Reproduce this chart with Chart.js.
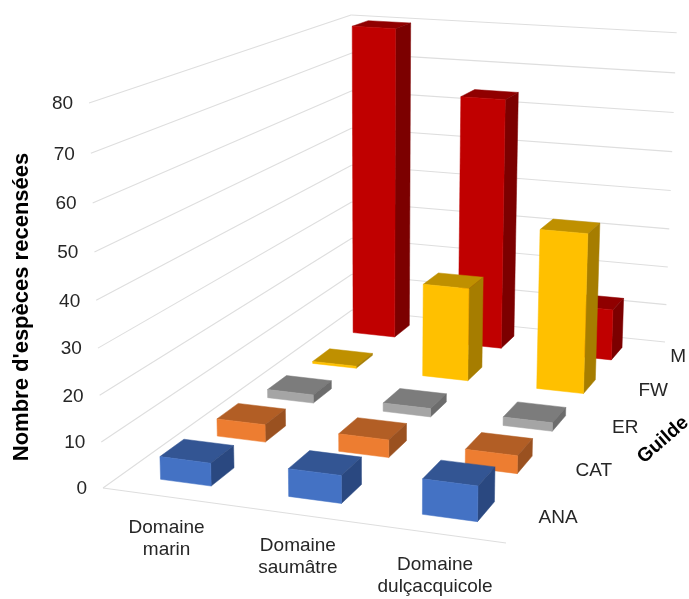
<!DOCTYPE html>
<html lang="fr">
<head>
<meta charset="utf-8">
<title>Nombre d'espèces recensées par domaine et par guilde</title>
<style>
  html, body { margin: 0; padding: 0; background: #fff; }
  canvas { display: block; }
</style>
<script src="https://cdn.jsdelivr.net/npm/chart.js@4"></script>
</head>
<body>
<canvas id="chart" width="689" height="599"></canvas>
<script>
// Domains (width of the box), guilds (depth of the box)
const domains = [["Domaine", "marin"], ["Domaine", "saumâtre"], ["Domaine", "dulçacquicole"]];
const guilds = ["ANA", "CAT", "ER", "FW", "M"];

// Species counts per guild, one value per domain
const anaValues = [5, 6, 7.5];
const catValues = [4, 4, 4];
const erValues = [2, 2, 2];
const fwValues = [0.5, 23, 39];
const mValues = [80, 64, 13];

const faceColors = ["#4472C4", "#ED7D31", "#A5A5A5", "#FFC000", "#C00000"];
const topColors = ["#335593", "#B25E25", "#7C7C7C", "#BF9000", "#900000"];
const sideColors = ["#2A4880", "#9A5120", "#6C6C6C", "#A67D00", "#7C0000"];

const valueTitle = "Nombre d'espèces recensées";
const depthTitle = "Guilde";

// Corners of the plot box on the page: floor, then points up the walls (u, v, w, x, y).
// The front edge is listed several times so the fit favours the tick positions.
const floorFrontLeft = [103, 488], floorFrontRight = [506, 543];
const floorBackLeft = [352, 310], floorBackRight = [665, 342];
const wallPoints = [
  [0, 0, 1, 89, 105], [0, 0, 1, 89, 105], [0, 0, 1, 89, 105], [0, 0, 1, 89, 105],
  [0, 0, 0.5, 98, 302], [0, 0, 0.5, 98, 302],
  [0, 1, 1, 348, 13], [0, 1, 0.5, 350, 164],
  [1, 1, 1, 677, 29], [1, 1, 0.5, 671, 189]
];

// Share of a category slot filled by a box along width and depth, and its drift with depth
const BAR_WIDTH = 0.40, BAR_DEPTH = 0.40, DRIFT_FRONT = 0.0035, DRIFT_PER_DEPTH = -0.0125;

// Builds the perspective projection (u, v, w in 0..1) from the box corners
function buildProjection() {
  const [x0, y0] = floorFrontLeft, [x1, y1] = floorFrontRight;
  const [x2, y2] = floorBackRight, [x3, y3] = floorBackLeft;
  const sx = x0 - x1 + x2 - x3, sy = y0 - y1 + y2 - y3;
  const dx1 = x1 - x2, dx2 = x3 - x2, dy1 = y1 - y2, dy2 = y3 - y2;
  const det = dx1 * dy2 - dx2 * dy1;
  const g = (sx * dy2 - dx2 * sy) / det, h = (dx1 * sy - sx * dy1) / det;
  const a = x1 - x0 + g * x1, b = x3 - x0 + h * x3, c = x0;
  const d = y1 - y0 + g * y1, e = y3 - y0 + h * y3, f = y0;

  // Least-squares fit of the vertical axis terms against the wall points
  const rows = wallPoints.map(([u, v, w, X, Y]) => {
    const den = g * u + h * v + 1;
    return { X, Y, Rx: (X * den - (a * u + b * v + c)) / w, Ry: (Y * den - (d * u + e * v + f)) / w };
  });
  const mean = key => rows.reduce((s, r) => s + r[key], 0) / rows.length;
  const mX = mean("X"), mY = mean("Y"), mRx = mean("Rx"), mRy = mean("Ry");
  let num = 0, den = 0;
  rows.forEach(r => {
    num += (r.X - mX) * (r.Rx - mRx) + (r.Y - mY) * (r.Ry - mRy);
    den += (r.X - mX) ** 2 + (r.Y - mY) ** 2;
  });
  const r = -num / den, p = mRx + mX * r, q = mRy + mY * r;

  return (u, v, w) => {
    const k = g * u + h * v + r * w + 1;
    return [(a * u + b * v + p * w + c) / k, (d * u + e * v + q * w + f) / k];
  };
}
const project = buildProjection();

function fillQuad(ctx, pts, color) {
  ctx.beginPath();
  pts.forEach((pt, i) => (i ? ctx.lineTo(pt[0], pt[1]) : ctx.moveTo(pt[0], pt[1])));
  ctx.closePath();
  ctx.fillStyle = color;
  ctx.strokeStyle = color;
  ctx.lineWidth = 0.5;
  ctx.fill();
  ctx.stroke();
}

function strokeSegment(ctx, from, to) {
  ctx.beginPath();
  ctx.moveTo(from[0], from[1]);
  ctx.lineTo(to[0], to[1]);
  ctx.stroke();
}

function drawText(ctx, text, x, y, font, color, angle) {
  ctx.save();
  ctx.translate(x, y);
  if (angle) ctx.rotate(angle);
  ctx.font = font;
  ctx.fillStyle = color;
  ctx.textAlign = "center";
  ctx.textBaseline = "middle";
  ctx.fillText(text, 0, 0);
  ctx.restore();
}

// Normalised position of an index or value on each of the chart's scales
const uOf = (chart, i) => (chart.scales.x.getPixelForValue(i) - chart.scales.x.left) / chart.scales.x.width;
const vOf = (chart, j) => (chart.scales.z.getPixelForValue(j) - chart.scales.z.left) / chart.scales.z.width;
const wOf = (chart, value) => (chart.scales.y.bottom - chart.scales.y.getPixelForValue(value)) / chart.scales.y.height;

const box3d = {
  id: "box3d",
  // Walls and floor grid, behind every box
  beforeDatasetsDraw(chart) {
    const ctx = chart.ctx;
    ctx.save();
    ctx.strokeStyle = "#DEDEDE";
    ctx.lineWidth = 1.1;
    chart.scales.y.ticks.forEach(tick => {
      const w = wOf(chart, tick.value);
      strokeSegment(ctx, project(0, 0, w), project(0, 1, w));
      strokeSegment(ctx, project(0, 1, w), project(1, 1, w));
    });
    strokeSegment(ctx, project(0, 0, 0), project(1, 0, 0));
    ctx.restore();
  },
  // Each dataset is painted as a row of boxes instead of flat bars
  beforeDatasetDraw(chart, args) {
    const ctx = chart.ctx;
    const ds = chart.data.datasets[args.index];
    const halfU = BAR_WIDTH / chart.data.labels.length / 2;
    const halfV = BAR_DEPTH / guilds.length / 2;
    const vc = vOf(chart, args.index);
    ds.data.forEach((value, i) => {
      const uc = uOf(chart, i) + DRIFT_FRONT + DRIFT_PER_DEPTH * vc, w = wOf(chart, value);
      const u0 = uc - halfU, u1 = uc + halfU, v0 = vc - halfV, v1 = vc + halfV;
      fillQuad(ctx, [project(u0, v0, w), project(u1, v0, w), project(u1, v1, w), project(u0, v1, w)], ds.topColor);
      fillQuad(ctx, [project(u1, v0, 0), project(u1, v1, 0), project(u1, v1, w), project(u1, v0, w)], ds.sideColor);
      fillQuad(ctx, [project(u0, v0, 0), project(u1, v0, 0), project(u1, v0, w), project(u0, v0, w)], ds.backgroundColor);
    });
    return false;
  },
  // Value ticks, category and guild names, axis titles
  afterDatasetsDraw(chart) {
    const ctx = chart.ctx;
    const labelFont = '19px "Liberation Sans", Arial, sans-serif';
    chart.scales.y.ticks.forEach(tick => {
      const [x, y] = project(0, 0, wOf(chart, tick.value));
      ctx.save();
      ctx.font = labelFont;
      ctx.fillStyle = "#262626";
      ctx.textAlign = "right";
      ctx.textBaseline = "middle";
      ctx.fillText(String(tick.value), x - 16, y + 1);
      ctx.restore();
    });
    chart.data.labels.forEach((lines, i) => {
      const [x, y] = project(uOf(chart, i), 0, 0);
      lines.forEach((line, n) => drawText(ctx, line, x, y + 31 + n * 22.5, labelFont, "#262626"));
    });
    guilds.forEach((name, j) => {
      const [x, y] = project(1.075, vOf(chart, j), 0);
      drawText(ctx, name, x, y - 3, labelFont, "#262626");
    });
    drawText(ctx, valueTitle, 22, 307, 'bold 22px "Liberation Sans", Arial, sans-serif', "#000", -Math.PI / 2);
    drawText(ctx, depthTitle, 663, 440, 'bold 19.5px "Liberation Sans", Arial, sans-serif', "#000", -41 * Math.PI / 180);
  }
};

const seriesValues = [anaValues, catValues, erValues, fwValues, mValues];

new Chart(document.getElementById("chart"), {
  type: "bar",
  data: {
    labels: domains,
    datasets: guilds.map((name, j) => ({
      label: name,
      data: seriesValues[j],
      backgroundColor: faceColors[j],
      topColor: topColors[j],
      sideColor: sideColors[j]
    }))
  },
  options: {
    responsive: false,
    animation: false,
    layout: { padding: { left: 0, right: 0, top: 105, bottom: 111 } },
    plugins: { legend: { display: false }, tooltip: { enabled: false } },
    scales: {
      x: { display: false },
      y: { min: 0, max: 80, ticks: { stepSize: 10, display: false }, grid: { display: false }, border: { display: false } },
      z: { type: "category", axis: "x", labels: guilds, offset: true, display: false }
    }
  },
  plugins: [box3d]
});
</script>
</body>
</html>
